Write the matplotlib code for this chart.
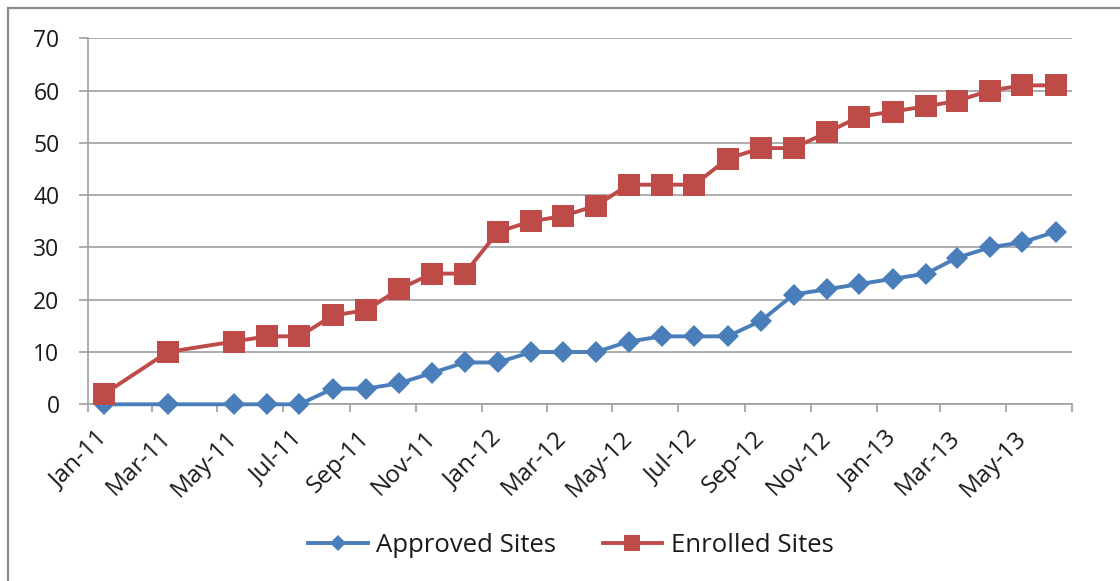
import matplotlib
matplotlib.use("Agg")
import matplotlib.pyplot as plt
import matplotlib.dates as mdates
from matplotlib.lines import Line2D
import pandas as pd

months = ['2011-01', '2011-03', '2011-05', '2011-06', '2011-07', '2011-08', '2011-09',
          '2011-10', '2011-11', '2011-12', '2012-01', '2012-02', '2012-03', '2012-04',
          '2012-05', '2012-06', '2012-07', '2012-08', '2012-09', '2012-10', '2012-11',
          '2012-12', '2013-01', '2013-02', '2013-03', '2013-04', '2013-05', '2013-06']
approved = [0, 0, 0, 0, 0, 3, 3, 4, 6, 8, 8, 10, 10, 10, 12, 13, 13, 13, 16, 21, 22,
            23, 24, 25, 28, 30, 31, 33]
enrolled = [2, 10, 12, 13, 13, 17, 18, 22, 25, 25, 33, 35, 36, 38, 42, 42, 42, 47, 49,
            49, 52, 55, 56, 57, 58, 60, 61, 61]
yticks = [0, 10, 20, 30, 40, 50, 60, 70]

plt.rcParams['font.family'] = ['Open Sans', 'DejaVu Sans']
plt.rcParams['text.color'] = '#1a1a1a'

# points sit in the middle of each month, like an Excel date axis
x = pd.to_datetime(months) + pd.Timedelta(days=15)

fig = plt.figure(figsize=(11.2, 5.81), dpi=100)
ax = fig.add_axes([88 / 1120, 1 - 404.3 / 581, (1072 - 88) / 1120, (404.3 - 38.3) / 581])

grey = '#a0a0a0'
ax.plot(x, approved, color='#4a7ebb', lw=2.8, marker='D', ms=11, mew=0,
        label='Approved Sites', clip_on=False, zorder=3)
ax.plot(x, enrolled, color='#be4b48', lw=2.8, marker='s', ms=16.5, mew=0,
        label='Enrolled Sites', clip_on=False, zorder=4)

ax.set_ylim(0, 70)
ax.set_yticks(yticks)
ax.set_xlim(pd.Timestamp('2011-01-01'), pd.Timestamp('2013-07-01'))
ax.grid(axis='y', color=grey, lw=1.2)
ax.set_axisbelow(True)

ax.xaxis.set_major_locator(mdates.MonthLocator(bymonth=range(1, 13, 2)))
ax.xaxis.set_major_formatter(plt.NullFormatter())
ax.xaxis.set_minor_locator(mdates.MonthLocator(bymonth=range(1, 13, 2), bymonthday=16))
ax.xaxis.set_minor_formatter(mdates.DateFormatter('%b-%y'))
ax.tick_params(axis='x', which='major', length=6, color=grey, width=1.2)
ax.tick_params(axis='x', which='minor', length=0, pad=22, labelsize=17.5,
               labelcolor='#1a1a1a')
for lab in ax.get_xticklabels(minor=True):
    lab.set_rotation(45)
    lab.set_ha('right')
    lab.set_va('center')
    lab.set_rotation_mode('anchor')
ax.tick_params(axis='y', length=6.5, color=grey, width=1.2, pad=14, labelsize=16.5,
               labelcolor='#1a1a1a')

for s in ['top', 'right']:
    ax.spines[s].set_visible(False)
for s in ['left', 'bottom']:
    ax.spines[s].set_color(grey)
    ax.spines[s].set_linewidth(1.2)

fig.legend(loc='center', bbox_to_anchor=(571 / 1120, 1 - 545 / 581), ncol=2,
           frameon=False, fontsize=18.5, handlelength=2.3, markerscale=0.7,
           columnspacing=1.8, handletextpad=0.35)

# chart frame, only its top and left edges fall inside the picture
fig.add_artist(Line2D([8 / 1120, 8 / 1120], [0, 1 - 8 / 581], color='#8c8c8c', lw=1.6))
fig.add_artist(Line2D([8 / 1120, 1], [1 - 8 / 581, 1 - 8 / 581], color='#8c8c8c', lw=1.6))

fig.savefig('out.png', dpi=100)
